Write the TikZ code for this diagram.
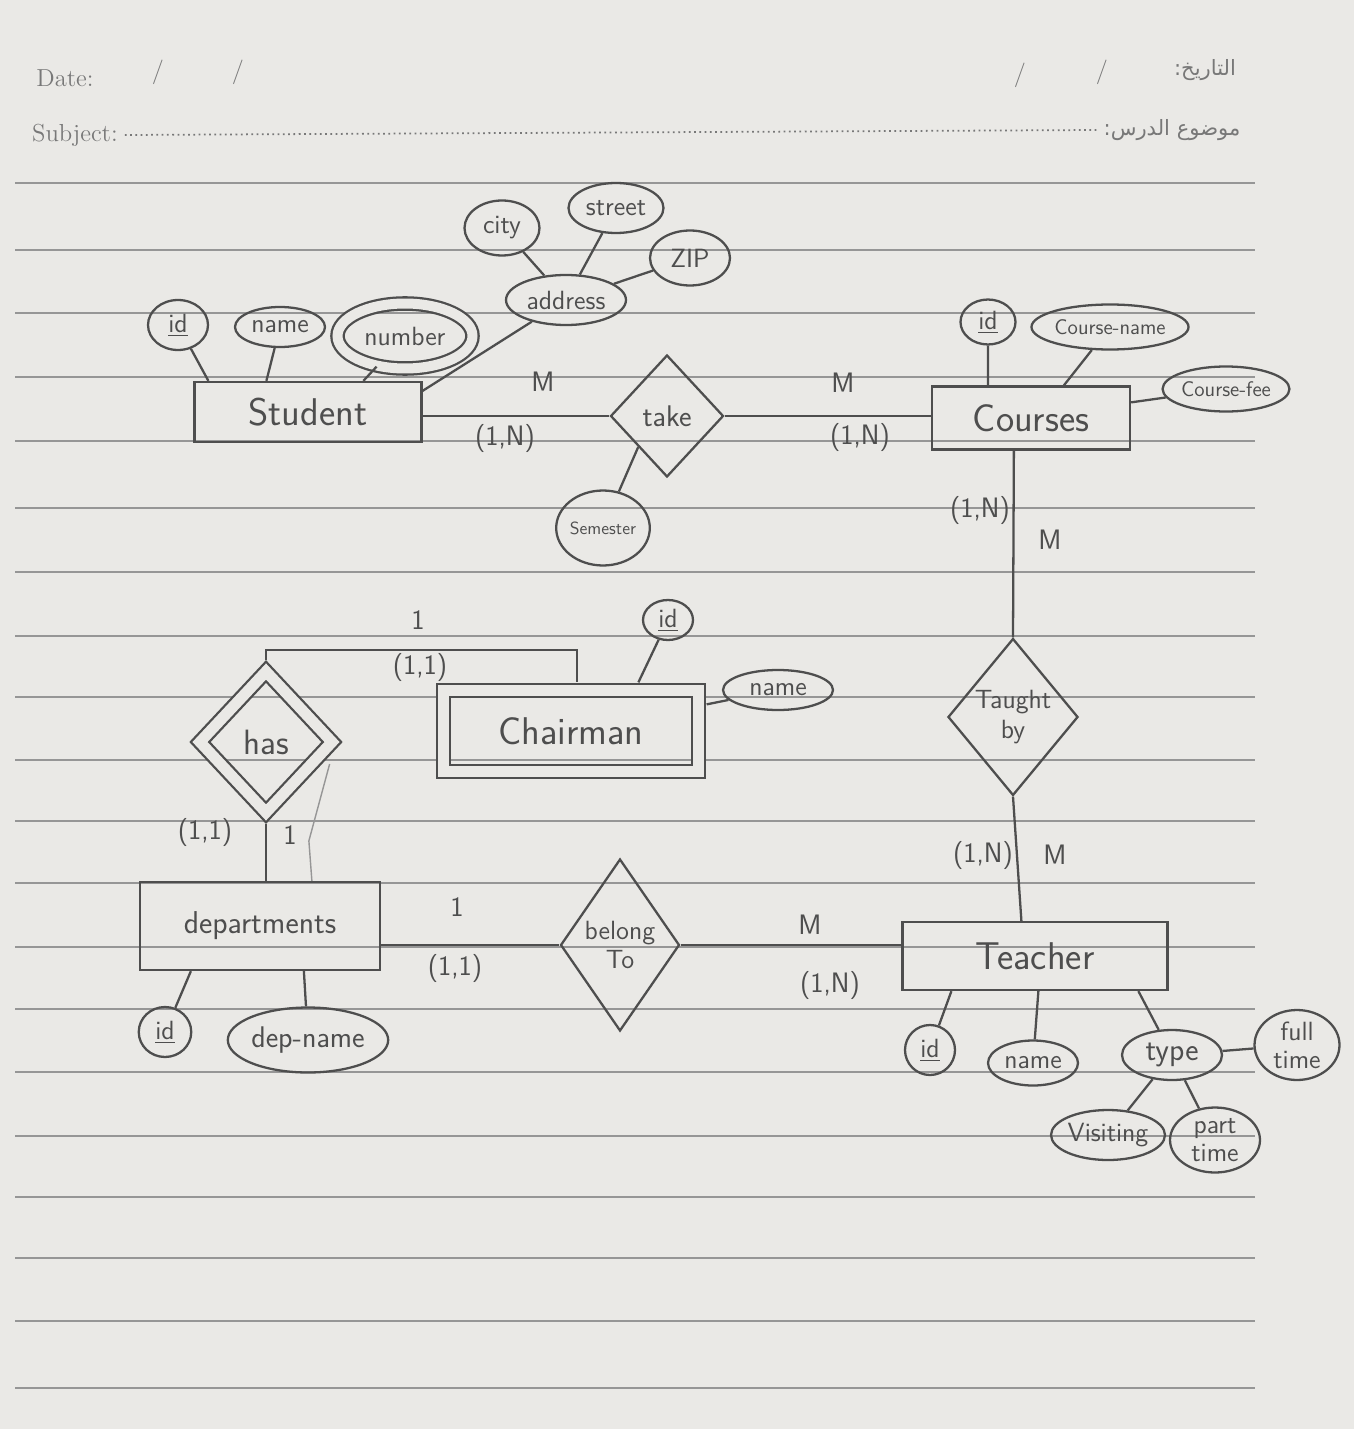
\documentclass[tikz,border=0pt]{standalone}
\usepackage{fontspec}
\newfontfamily\arabicfont[Script=Arabic]{DejaVu Sans}
\TeXXeTstate=1
\usetikzlibrary{%
  shapes.geometric,% ellipse, diamond
  calc,%
  positioning%
}
\definecolor{paper}{RGB}{234,233,230}
\definecolor{pencil}{RGB}{78,78,78}
\definecolor{ruling}{RGB}{150,150,150}
\definecolor{print}{RGB}{120,120,120}

\begin{document}
\begin{tikzpicture}
  [
  x=0.02cm, y=-0.02cm,
  line width=1.3pt,
  draw=pencil, text=pencil,
  entnode/.style={rectangle, draw=pencil, inner sep=0pt, font=\sffamily\fontsize{22}{26}\selectfont},
  attnode/.style={ellipse, draw=pencil, inner sep=0pt, align=center, font=\sffamily\fontsize{15}{16}\selectfont},
  relnode/.style={diamond, draw=pencil, inner sep=0pt, align=center, font=\sffamily\fontsize{17}{19}\selectfont},
  cardnode/.style={font=\sffamily\fontsize{16}{18}\selectfont},
  printnode/.style={text=print, font=\fontsize{14}{16}\selectfont},
  ]

  % paper
  \fill[paper] (0,0) rectangle (1354,1429);
  \useasboundingbox (0,0) rectangle (1354,1429);
  \foreach \ry in {183,250,313,377,441,508,572,636,697,760,821,883,947,1009,1072,1136,1197,1258,1321,1388}
    \draw[ruling, line width=0.8pt] (15,\ry) -- (1255,\ry);

  % header
  \node[printnode] (datelbl) at (65,78) {Date:};
  \node[printnode] (dslasha) at (158,72) {/};
  \node[printnode] (dslashb) at (238,72) {/};
  \node[printnode] (dslashc) at (1020,75) {/};
  \node[printnode] (dslashd) at (1102,72) {/};
  \node[printnode, font=\arabicfont\fontsize{12}{14}\selectfont] (datear) at (1205,70) {\beginR التاريخ:\endR};
  \node[printnode] (subjlbl) at (75,135) {Subject:};
  \node[printnode, font=\arabicfont\fontsize{12}{14}\selectfont] (topicar) at (1172,130) {\beginR موضوع الدرس:\endR};
  \draw[print, dotted, line width=1pt] (subjlbl.east) -- (topicar.west);

  % entities
  \node[entnode, minimum width=4.54cm, minimum height=1.2cm] (student) at (308,412) {Student};
  \node[entnode, minimum width=3.96cm, minimum height=1.26cm] (courses) at (1031,418) {Courses};
  \node[entnode, minimum width=5.3cm, minimum height=1.36cm] (teacher) at (1035,956) {Teacher};
  \node[entnode, minimum width=4.8cm, minimum height=1.76cm, font=\sffamily\fontsize{18}{20}\selectfont] (dept) at (260,926) {departments};
  \node[entnode, double=paper, double distance=0.22cm, minimum width=5.1cm, minimum height=1.62cm] (chair) at (571,731) {Chairman};

  % relationships
  \node[relnode, minimum width=2.26cm, minimum height=2.44cm] (take) at (667,416) {take};
  \node[relnode, minimum width=2.4cm, minimum height=3.14cm, font=\sffamily\fontsize{15}{17}\selectfont] (taught) at (1013,717) {Taught\\by};
  \node[relnode, minimum width=2.32cm, minimum height=3.44cm, font=\sffamily\fontsize{15}{17}\selectfont] (belong) at (620,945) {belong\\To};
  \node[relnode, double=paper, double distance=0.22cm, minimum width=2.66cm, minimum height=2.84cm, font=\sffamily\fontsize{20}{22}\selectfont] (has) at (266,742) {has};

  % attributes
  \node[attnode, minimum width=1.2cm, minimum height=1cm] (sid) at (178,325) {\underline{id}};
  \node[attnode, minimum width=1.8cm, minimum height=0.8cm] (sname) at (280,327) {name};
  \node[attnode, double=paper, double distance=0.2cm, minimum width=2.7cm, minimum height=1.3cm] (snumber) at (405,336) {number};
  \node[attnode, minimum width=2.4cm, minimum height=1cm] (addr) at (566,300) {address};
  \node[attnode, minimum width=1.5cm, minimum height=1.1cm] (city) at (502,228) {city};
  \node[attnode, minimum width=1.9cm, minimum height=1cm] (street) at (616,208) {street};
  \node[attnode, minimum width=1.6cm, minimum height=1.1cm] (zip) at (690,258) {ZIP};
  \node[attnode, minimum width=1.7cm, minimum height=1.5cm, font=\sffamily\fontsize{10}{12}\selectfont] (sem) at (603,528) {Semester};

  \node[attnode, minimum width=1.1cm, minimum height=0.9cm] (cid) at (988,322) {\underline{id}};
  \node[attnode, minimum width=2.8cm, minimum height=0.9cm, font=\sffamily\fontsize{12}{14}\selectfont] (cname) at (1110,327) {Course-name};
  \node[attnode, minimum width=2.5cm, minimum height=0.9cm, font=\sffamily\fontsize{12}{14}\selectfont] (cfee) at (1226,389) {Course-fee};

  \node[attnode, minimum width=1cm, minimum height=0.8cm] (chid) at (668,620) {\underline{id}};
  \node[attnode, minimum width=2.2cm, minimum height=0.8cm] (chname) at (778,690) {name};

  \node[attnode, minimum width=1.05cm, minimum height=1cm] (did) at (165,1032) {\underline{id}};
  \node[attnode, minimum width=2.9cm, minimum height=1.3cm, font=\sffamily\fontsize{17}{19}\selectfont] (dname) at (308,1040) {dep-name};

  \node[attnode, minimum width=1cm, minimum height=1cm] (tid) at (930,1050) {\underline{id}};
  \node[attnode, minimum width=1.8cm, minimum height=0.9cm] (tname) at (1033,1063) {name};
  \node[attnode, minimum width=2cm, minimum height=1cm, font=\sffamily\fontsize{18}{20}\selectfont] (ttype) at (1172,1055) {type};
  \node[attnode, minimum width=1.7cm, minimum height=1.4cm] (tfull) at (1297,1045) {full\\time};
  \node[attnode, minimum width=2.2cm, minimum height=1cm] (tvis) at (1108,1135) {Visiting};
  \node[attnode, minimum width=1.8cm, minimum height=1.3cm] (tpart) at (1215,1140) {part\\time};

  % attribute links
  \draw (sid) -- ($(student.north west)+(15,0)$);
  \draw (sname) -- ($(student.north west)+(73,0)$);
  \draw (snumber) -- ($(student.north west)+(170,0)$);
  \draw (addr) -- ($(student.north east)+(0,10)$);
  \draw (city) -- (addr);
  \draw (street) -- (addr);
  \draw (zip) -- (addr);
  \draw (take.south west) -- (sem);
  \draw (cid) -- ($(courses.north west)+(57,0)$);
  \draw (cname) -- ($(courses.north west)+(133,0)$);
  \draw (cfee) -- ($(courses.north east)+(0,17)$);
  \draw (chid) -- ($(chair.north west)+(196,-7)$);
  \draw (chname) -- ($(chair.north east)+(7,15)$);
  \draw (did) -- ($(dept.south west)+(52,0)$);
  \draw (dname) -- ($(dept.south west)+(165,0)$);
  \draw (tid) -- ($(teacher.south west)+(50,0)$);
  \draw (tname) -- ($(teacher.south west)+(137,0)$);
  \draw (ttype) -- ($(teacher.south west)+(237,0)$);
  \draw (ttype) -- (tfull);
  \draw (ttype) -- (tvis);
  \draw (ttype) -- (tpart);

  % relationship links
  \draw (take.west -| student.east) -- (take.west);
  \draw (take.east) -- (take.east -| courses.west);
  \draw ($(courses.south west)+(83,0)$) -- (taught.north);
  \draw (taught.south) -- ($(teacher.north west)+(120,0)$);
  \draw (belong.west -| dept.east) -- (belong.west);
  \draw (belong.east) -- (belong.east -| teacher.west);
  \coordinate (hasbend) at (420,650);
  \draw ($(has.north)+(0,-10)$) |- (hasbend) -| ($(chair.north)+(6,-7)$);
  \draw ($(has.south)+(0,10)$) -- (has.south |- dept.north);
  \draw[ruling, line width=0.8pt] ($(dept.north west)+(173,0)$) -- ++(-3,-40) -- ($(has.east)+(-4,22)$);

  % cardinalities
  \node[cardnode] (cardsm) at (543,382) {M};
  \node[cardnode] (cardsn) at (505,438) {(1,N)};
  \node[cardnode] (cardcm) at (843,383) {M};
  \node[cardnode] (cardcn) at (860,437) {(1,N)};
  \node[cardnode] (cardtn) at (980,510) {(1,N)};
  \node[cardnode] (cardtm) at (1050,540) {M};
  \node[cardnode] (cardbn) at (983,855) {(1,N)};
  \node[cardnode] (cardbm) at (1055,855) {M};
  \node[cardnode] (carddo) at (457,907) {1};
  \node[cardnode] (carddn) at (455,968) {(1,1)};
  \node[cardnode] (cardem) at (810,925) {M};
  \node[cardnode] (carden) at (830,985) {(1,N)};
  \node[cardnode] (cardho) at (418,620) {1};
  \node[cardnode] (cardhn) at (420,667) {(1,1)};
  \node[cardnode] (cardkn) at (205,832) {(1,1)};
  \node[cardnode] (cardko) at (290,835) {1};
\end{tikzpicture}
\end{document}
